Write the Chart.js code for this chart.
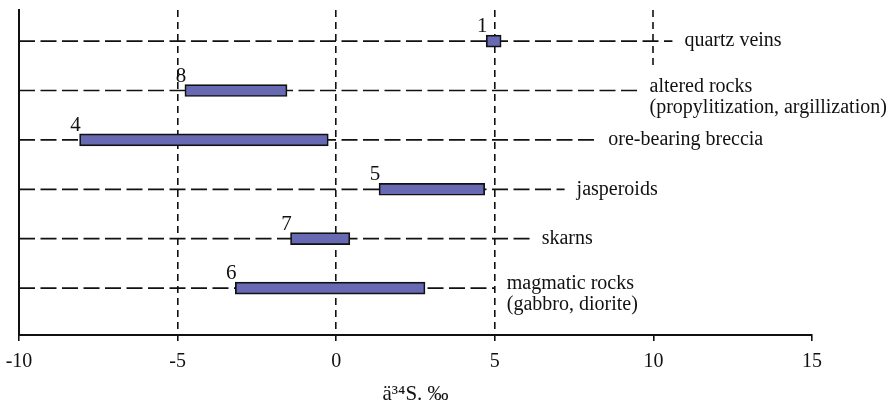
<!DOCTYPE html>
<html>
<head>
<meta charset="utf-8">
<script src="https://cdn.jsdelivr.net/npm/chart.js@4/dist/chart.umd.min.js"></script>
<style>
  body { margin: 0; background: #fff; }
</style>
</head>
<body>
<canvas id="chart" width="893" height="404"></canvas>
<script>
// rows from top to bottom
var rocks = [
  ['quartz veins'],
  ['altered rocks', '(propylitization, argillization)'],
  ['ore-bearing breccia'],
  ['jasperoids'],
  ['skarns'],
  ['magmatic rocks', '(gabbro, diorite)']
];
var sampleNo = ['1', '8', '4', '5', '7', '6'];
var d34Smin = [4.73, -4.77, -8.09, 1.35, -1.44, -3.18];
var d34Smax = [5.20, -1.55, -0.25, 4.68, 0.43, 2.80];
var guideEnd = [10.6, 9.5, 8.2, 7.2, 6.1, 5.0];
var xTicks = [-10, -5, 0, 5, 10, 15];
var axisTitle = 'ä³⁴S. ‰';

var serif = 'Liberation Serif';
var ink = '#111';

function rowY(i) { return rocks.length - 1 - i; }

var bars = rocks.map(function(r, i) {
  return { x: [d34Smin[i], d34Smax[i]], y: rowY(i) };
});

var guides = rocks.map(function(r, i) {
  return {
    type: 'line',
    data: [{ x: xTicks[0], y: rowY(i) }, { x: guideEnd[i], y: rowY(i) }],
    borderColor: ink,
    borderWidth: 1.7,
    borderDash: [16, 5.5],
    pointRadius: 0,
    fill: false,
    order: 2
  };
});

var annotate = {
  id: 'annotate',
  beforeDatasetsDraw: function(chart) {
    // the 10 gridline stops above the "altered rocks" label
    var ctx = chart.ctx, x = chart.scales.x, y = chart.scales.y;
    var px = Math.round(x.getPixelForValue(10));
    ctx.save();
    ctx.strokeStyle = ink;
    ctx.lineWidth = 1.6;
    ctx.setLineDash([7, 5]);
    ctx.beginPath();
    ctx.moveTo(px, chart.chartArea.top);
    ctx.lineTo(px, y.getPixelForValue(4.5));
    ctx.stroke();
    ctx.restore();
  },
  afterDatasetsDraw: function(chart) {
    var ctx = chart.ctx, x = chart.scales.x, y = chart.scales.y;
    ctx.save();
    ctx.fillStyle = ink;
    rocks.forEach(function(lines, i) {
      var py = y.getPixelForValue(rowY(i));
      // sample number above the start of the bar
      ctx.font = '21px "' + serif + '"';
      ctx.textAlign = 'center';
      ctx.textBaseline = 'alphabetic';
      ctx.fillText(sampleNo[i], x.getPixelForValue(d34Smin[i]) - 4, py - 9);
      // rock label after the guide line
      ctx.font = '20px "' + serif + '"';
      ctx.textAlign = 'left';
      ctx.textBaseline = 'middle';
      var lx = x.getPixelForValue(guideEnd[i]) + 12;
      var top = lines.length > 1 ? py - 4 : py;
      lines.forEach(function(t, k) {
        ctx.fillText(t, lx, top + k * 21);
      });
    });
    ctx.restore();
  }
};

var chart = new Chart('chart', {
  type: 'bar',
  data: {
    datasets: [{
      type: 'bar',
      data: bars,
      backgroundColor: '#6769b3',
      borderColor: ink,
      borderWidth: 1.7,
      borderSkipped: false,
      barThickness: 12,
      order: 1
    }].concat(guides)
  },
  options: {
    indexAxis: 'y',
    responsive: false,
    animation: false,
    layout: { padding: { left: 19, right: 81, top: 10, bottom: 0 } },
    plugins: { legend: { display: false }, tooltip: { enabled: false } },
    scales: {
      x: {
        type: 'linear',
        position: 'bottom',
        min: -10,
        max: 15,
        afterBuildTicks: function(s) {
          s.ticks = xTicks.map(function(v) { return { value: v }; });
        },
        afterFit: function(s) {
          s.height = 69;
          s.paddingLeft = 0;
          s.paddingRight = 0;
        },
        grid: {
          color: function(c) {
            return [-5, 0, 5].indexOf(c.tick.value) >= 0 ? ink : 'transparent';
          },
          lineWidth: 1.6,
          tickColor: ink,
          tickWidth: 1.6,
          tickLength: 6,
          tickBorderDash: []
        },
        border: { display: true, color: ink, width: 2, dash: [7, 5] },
        ticks: {
          color: ink,
          padding: 9,
          font: { family: serif, size: 20 }
        },
        title: {
          display: true,
          text: axisTitle,
          color: ink,
          padding: { top: 4, bottom: -3 },
          font: { family: serif, size: 21 }
        }
      },
      y: {
        type: 'linear',
        min: -0.95,
        max: 5.63,
        offset: false,
        afterFit: function(s) { s.width = 0; },
        grid: { display: false, offset: false },
        border: { display: true, color: ink, width: 2 },
        ticks: { display: false }
      }
    }
  },
  plugins: [annotate]
});
</script>
</body>
</html>
